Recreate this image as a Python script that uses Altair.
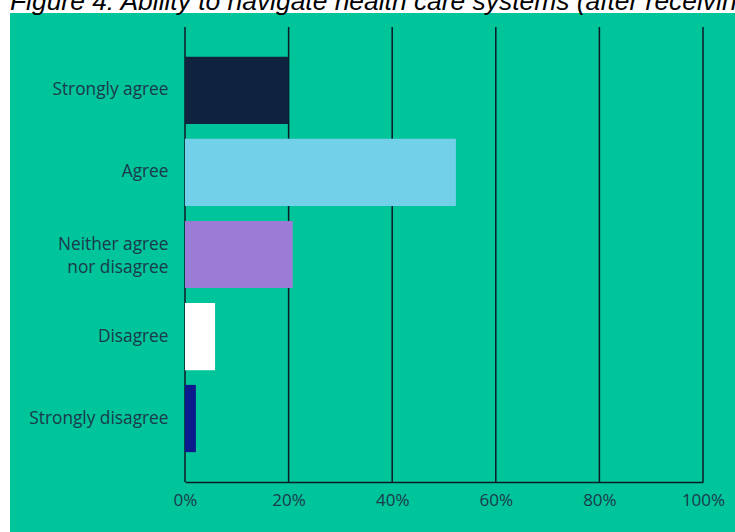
import altair as alt
import pandas as pd

categories = ["Strongly agree", "Agree", "Neither agree nor disagree", "Disagree", "Strongly disagree"]
values = [20.0, 52.3, 20.8, 5.8, 2.1]
bar_colors = ["#0F233F", "#72D0E8", "#9B7BD6", "#FFFFFF", "#0B1A8C"]
tick_values = [0, 20, 40, 60, 80, 100]
title_text = ["Figure 4: Ability to navigate health care systems (after receiving"]

GREEN = "#00C49A"
INK = "#1B3A4B"
FONT = "Open Sans"

df = pd.DataFrame({"category": categories, "value": values})
ticks_df = pd.DataFrame({"t": tick_values})
title_df = pd.DataFrame({"title": title_text})

W, H = 518, 455

panel = alt.Chart(pd.DataFrame({"a": [0]})).mark_rect(color=GREEN).encode(
    x=alt.value(-175), x2=alt.value(560), y=alt.value(-14), y2=alt.value(520)
)

title = alt.Chart(title_df).mark_text(
    align="left", baseline="alphabetic", fontSize=26.4, font="Liberation Sans",
    fontStyle="italic", color="#000000"
).encode(text="title:N", x=alt.value(-175), y=alt.value(-17.5))

rules = alt.Chart(ticks_df).mark_rule(color="#0E1A24", strokeWidth=1.5).encode(
    x=alt.X("t:Q", scale=alt.Scale(domain=[0, 100]))
)

bars = alt.Chart(df).mark_bar().encode(
    x=alt.X("value:Q", scale=alt.Scale(domain=[0, 100]),
            axis=alt.Axis(values=tick_values, labelExpr="datum.value + '%'", title=None,
                          grid=False, ticks=False, domainColor="#0E1A24", domainWidth=1.5,
                          labelColor=INK, labelFontSize=17, labelFont=FONT, labelFlush=False,
                          labelPadding=10, zindex=1)),
    y=alt.Y("category:N", sort=categories,
            scale=alt.Scale(paddingInner=0.18, paddingOuter=0.364),
            axis=alt.Axis(title=None, domain=False, ticks=False, labelColor=INK,
                          labelFontSize=17.3, labelFont=FONT, labelPadding=17,
                          labelLineHeight=23, zindex=1,
                          labelOffset={"condition": {"test": "datum.label == 'Neither agree nor disagree'", "value": -9.5}, "value": 0},
                          labelExpr="datum.label == 'Neither agree nor disagree' ? ['Neither agree', 'nor disagree'] : datum.label")),
    color=alt.Color("category:N", scale=alt.Scale(domain=categories, range=bar_colors), legend=None),
)

chart = alt.layer(panel, title, rules, bars).properties(
    width=W, height=H,
    autosize=alt.AutoSizeParams(type="none"),
    padding={"left": 185, "top": 27, "right": 32, "bottom": 50},
    background="#FFFFFF",
).configure_view(stroke=None)

chart.save("out.html", embed_options={"renderer": "svg", "actions": False})
